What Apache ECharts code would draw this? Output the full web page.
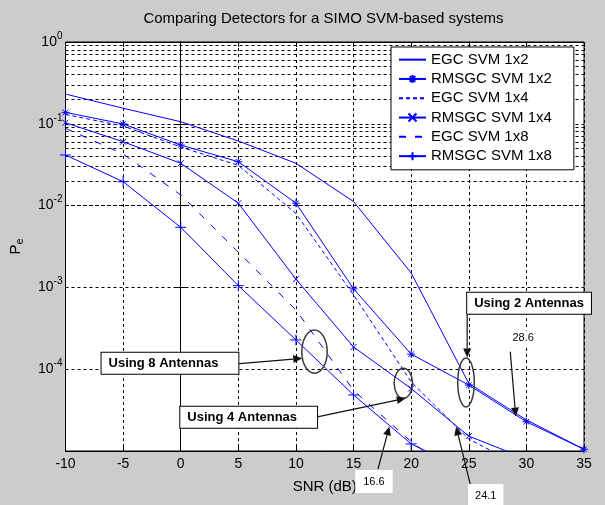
<!DOCTYPE html>
<html>
<head>
<meta charset="utf-8">
<title>Comparing Detectors for a SIMO SVM-based systems</title>
<script src="https://cdn.jsdelivr.net/npm/echarts@6/dist/echarts.min.js"></script>
<style>
  html, body { margin: 0; padding: 0; background: #cccccc; }
  #chartmain { width: 605px; height: 505px; }
</style>
</head>
<body>
<div id="chartmain"></div>
<script>
// SNR in dB, one point every 5 dB
var snr = [-10, -5, 0, 5, 10, 15, 20, 25, 30, 35];

// error probability
var egc1x2   = [0.231, 0.155, 0.106, 0.0616, 0.0329, 0.0112, 0.0015, 6.7e-5, 2.4e-5, 1.05e-5];
var rmsgc1x2 = [0.138, 0.0995, 0.055, 0.0344, 0.0107, 9.6e-4, 1.53e-4, 6.4e-5, 2.28e-5, 1.05e-5];
var egc1x4   = [0.13, 0.094, 0.052, 0.031, 0.008, 8.1e-4, 7.0e-5, 1.4e-5, 6e-6, 2.5e-6];
var rmsgc1x4 = [0.103, 0.0604, 0.0329, 0.0107, 1.26e-3, 1.87e-4, 5.8e-5, 1.52e-5, 8e-6, 3.5e-6];
var egc1x8   = [0.088, 0.0428, 0.0135, 0.0027, 5.3e-4, 5.5e-5, 1.3e-5, 4e-6, 1.5e-6, 6e-7];
var rmsgc1x8 = [0.0415, 0.0196, 0.00543, 1.05e-3, 2.28e-4, 4.84e-5, 1.22e-5, 5.6e-6, 2.5e-6, 1e-6];

var seriesNames = ['EGC SVM 1x2', 'RMSGC SVM 1x2', 'EGC SVM 1x4', 'RMSGC SVM 1x4', 'EGC SVM 1x8', 'RMSGC SVM 1x8'];

// annotations, in data units (SNR, Pe)
var ellipses = [   // centre snr, centre pe, rx px, ry px
  [11.61, 1.64e-4, 12.7, 21.7],
  [19.32, 6.72e-5, 9.2, 15],
  [24.76, 6.87e-5, 8.3, 24.5]
];
var arrows = [     // from -> to (arrow head at "to")
  [[4.85, 1.16e-4], [10.55, 1.36e-4]],
  [[11.76, 2.6e-5], [19.53, 4.41e-5]],
  [[24.86, 4.6e-4], [24.86, 1.39e-4]],
  [[28.6, 1.64e-4], [29.08, 2.63e-5]],
  [[17.12, 6.03e-6], [18.11, 2.0e-5]],
  [[25.15, 3.79e-6], [23.9, 2.0e-5]]
];
var boxes = [      // text, left snr, middle pe
  ['Using 8 Antennas', -6.87, 1.18e-4, [4, 20, 4, 7]],
  ['Using 4 Antennas', -0.04, 2.58e-5, [4, 20, 4, 7]],
  ['Using 2 Antennas', 24.86, 6.39e-4, [4, 7, 4, 7]]
];
var notes = [      // text, centre snr, centre pe
  ['28.6', 29.72, 2.41e-4, [2, 8]],
  ['16.6', 16.77, 4.24e-6, [6, 8]],
  ['24.1', 26.47, 2.86e-6, [6, 7]]
];

var blue = '#0000ff';
var ff = "'Liberation Sans', Arial, sans-serif";
var gridLeft = 63, gridRight = 21, gridTop = 42, gridBottom = 54;

var starPath = 'path://M5,0L5,10M0,5L10,5M1.5,1.5L8.5,8.5M8.5,1.5L1.5,8.5';
var crossPath = 'path://M0,0L10,10M10,0L0,10';
var plusPath = 'path://M5,0L5,10M0,5L10,5';

// minor grid of the log axis: 2..9 x 10^k
var minorGrid = [];
for (var k = -5; k < 0; k++) {
  for (var m = 2; m <= 9; m++) minorGrid.push(m * Math.pow(10, k));
}

function mk(name, values, dash, symbol, size) {
  return {
    name: name,
    type: 'line',
    data: snr.map(function (x, i) { return [x, values[i]]; }),
    symbol: symbol || 'none',
    symbolSize: size || 0,
    showSymbol: !!symbol,
    lineStyle: { color: blue, width: 1, type: dash || 'solid' },
    itemStyle: { color: blue, borderColor: blue, borderWidth: 1 },
    emphasis: { disabled: true },
    z: 3
  };
}

// plain line series get no marker in the legend
var legendData = seriesNames.map(function (n) {
  if (n.indexOf('EGC') === 0) return { name: n, itemStyle: { opacity: 0 } };
  return { name: n };
});

var chart = echarts.init(document.getElementById('chartmain'));

var option = {
  backgroundColor: '#cccccc',
  animation: false,
  textStyle: { fontFamily: ff },
  grid: {
    left: gridLeft, right: gridRight, top: gridTop, bottom: gridBottom,
    show: true, backgroundColor: '#ffffff', borderColor: '#000', borderWidth: 1
  },
  legend: {
    data: legendData,
    orient: 'vertical',
    left: 391, top: 47, z: 20,
    padding: [3, 22, 4, 7],
    itemWidth: 27, itemHeight: 10, itemGap: 0, itemTextGap: 11.5,
    backgroundColor: '#fff', borderColor: '#000', borderWidth: 1, borderRadius: 0,
    selectedMode: false,
    textStyle: { fontSize: 15, color: '#000', fontFamily: ff, lineHeight: 19.3 }
  },
  xAxis: [{
    type: 'value', min: -10, max: 35, interval: 5, position: 'bottom',
    axisLine: { lineStyle: { color: '#000' } },
    axisTick: { inside: true, length: 5, lineStyle: { color: '#000' } },
    axisLabel: { color: '#000', fontSize: 14, fontFamily: ff, margin: 6 },
    splitLine: { show: true, lineStyle: { color: '#000', type: [3, 3], width: 1 } },
    name: 'SNR (dB)', nameLocation: 'middle', nameGap: 28,
    nameTextStyle: { color: '#000', fontSize: 15, fontFamily: ff }
  }, {
    type: 'value', min: -10, max: 35, interval: 5, position: 'top',
    axisLine: { lineStyle: { color: '#000' } },
    axisTick: { inside: true, length: 5, lineStyle: { color: '#000' } },
    axisLabel: { show: false },
    splitLine: { show: false }
  }],
  yAxis: [{
    type: 'log', logBase: 10, min: 1e-5, max: 1, position: 'left',
    axisLine: { show: true, lineStyle: { color: '#000' } },
    axisTick: { inside: true, length: 5, lineStyle: { color: '#000' } },
    axisLabel: {
      margin: 3,
      formatter: function (v) {
        var e = Math.round(Math.log10(v));
        if (e === -5) return '';
        return '{b|10}{s|' + e + '}';
      },
      rich: {
        b: { fontSize: 14, color: '#000', fontFamily: ff },
        s: { fontSize: 10, color: '#000', fontFamily: ff, padding: [0, 0, 12, 0] }
      }
    },
    splitLine: { show: true, lineStyle: { color: '#000', type: [3, 3], width: 1 } },
    name: '{p|P}{e|e}', nameLocation: 'middle', nameGap: 40, nameRotate: 90,
    nameTextStyle: {
      rich: {
        p: { fontSize: 15, color: '#000', fontFamily: ff },
        e: { fontSize: 11, color: '#000', fontFamily: ff, padding: [9, 0, 0, 0] }
      }
    }
  }, {
    type: 'log', logBase: 10, min: 1e-5, max: 1, position: 'right',
    axisLine: { show: true, lineStyle: { color: '#000' } },
    axisTick: { inside: true, length: 5, lineStyle: { color: '#000' } },
    axisLabel: { show: false },
    splitLine: { show: false }
  }],
  series: [
    {
      name: 'minor grid', type: 'line', data: [], silent: true, z: 1,
      markLine: {
        silent: true, z: 1, symbol: ['none', 'none'], label: { show: false }, animation: false,
        lineStyle: { color: '#000', type: [3, 3], width: 1 },
        emphasis: { disabled: true },
        data: minorGrid.map(function (v) { return { yAxis: v }; })
      }
    },
    mk(seriesNames[0], egc1x2, 'solid'),
    mk(seriesNames[1], rmsgc1x2, 'solid', starPath, 8),
    mk(seriesNames[2], egc1x4, [4, 3]),
    mk(seriesNames[3], rmsgc1x4, 'solid', crossPath, 6),
    mk(seriesNames[4], egc1x8, [7, 9]),
    mk(seriesNames[5], rmsgc1x8, 'solid', plusPath, 11)
  ]
};
chart.setOption(option);

// annotations, converted from data units to pixels
function toPx(x, y) {
  return chart.convertToPixel({ xAxisIndex: 0, yAxisIndex: 0 }, [x, y]);
}

var gfx = [];
gfx.push({
  type: 'text', x: gridLeft + (605 - gridLeft - gridRight) / 2, y: 19, z: 10,
  style: {
    text: 'Comparing Detectors for a SIMO SVM-based systems',
    fill: '#000', font: '15px ' + ff, align: 'center', verticalAlign: 'middle'
  }
});

ellipses.forEach(function (e) {
  var c = toPx(e[0], e[1]);
  gfx.push({
    type: 'ellipse', z: 10,
    shape: { cx: c[0], cy: c[1], rx: e[2], ry: e[3] },
    style: { fill: null, stroke: '#3a3a3a', lineWidth: 1.5 }
  });
});

arrows.forEach(function (a) {
  var p1 = toPx(a[0][0], a[0][1]);
  var p2 = toPx(a[1][0], a[1][1]);
  var dx = p2[0] - p1[0], dy = p2[1] - p1[1];
  var len = Math.sqrt(dx * dx + dy * dy);
  var ux = dx / len, uy = dy / len;
  var hl = 9, hw = 4;
  var bx = p2[0] - ux * hl, by = p2[1] - uy * hl;
  gfx.push({
    type: 'line', z: 10,
    shape: { x1: p1[0], y1: p1[1], x2: bx, y2: by },
    style: { stroke: '#111', lineWidth: 1.2 }
  });
  gfx.push({
    type: 'polygon', z: 10,
    shape: { points: [[p2[0], p2[1]], [bx - uy * hw, by + ux * hw], [bx + uy * hw, by - ux * hw]] },
    style: { fill: '#111' }
  });
});

boxes.forEach(function (b) {
  var p = toPx(b[1], b[2]);
  gfx.push({
    type: 'text', x: p[0], y: p[1], z: 11,
    style: {
      text: b[0], fill: '#000', font: 'bold 13px ' + ff,
      align: 'left', verticalAlign: 'middle',
      backgroundColor: '#fff', borderColor: '#000', borderWidth: 1,
      padding: b[3]
    }
  });
});

notes.forEach(function (n) {
  var p = toPx(n[1], n[2]);
  gfx.push({
    type: 'text', x: p[0], y: p[1], z: 11,
    style: {
      text: n[0], fill: '#000', font: '11px ' + ff,
      align: 'center', verticalAlign: 'middle',
      backgroundColor: '#fff', padding: n[3]
    }
  });
});

chart.setOption({ graphic: gfx });
</script>
</body>
</html>
